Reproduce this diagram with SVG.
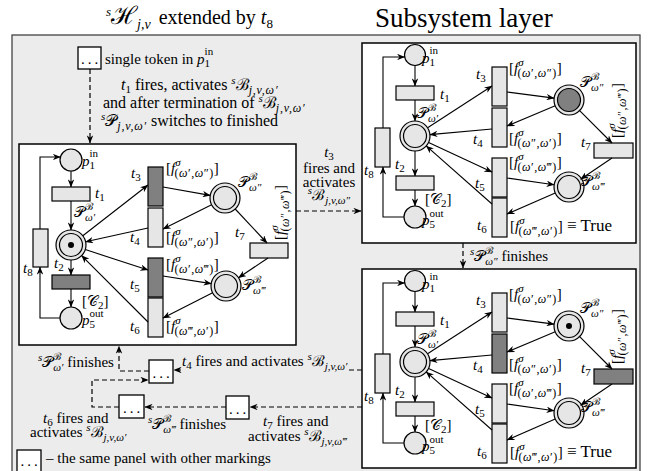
<svg xmlns="http://www.w3.org/2000/svg" width="654" height="471" viewBox="0 0 654 471" font-family="Liberation Serif, serif" font-size="15">
<defs>
<style>
.i{font-style:italic}
.u{font-style:normal}
.s{font-size:11px}
.g{font-size:12px;letter-spacing:0.5px}
.ms{font-size:12px;letter-spacing:0.8px;font-style:italic}
.c{font-family:"DejaVu Serif",serif;font-style:normal}
.outer{fill:#ececec;stroke:#444;stroke-width:1.3}
.panel{fill:#fff;stroke:#000;stroke-width:1.5}
.lt{fill:#e6e6e6;stroke:#000;stroke-width:1.2}
.dk{fill:#808080;stroke:#000;stroke-width:1.2}
.box{fill:#fff;stroke:#000;stroke-width:1.3}
.arc{fill:none;stroke:#000;stroke-width:1.1;marker-end:url(#ah)}
.dsh{fill:none;stroke:#000;stroke-width:1.2;stroke-dasharray:5 3;marker-end:url(#ah)}
.dots{letter-spacing:3px;text-anchor:middle}
</style>
<marker id="ah" viewBox="0 0 10 8" refX="9.5" refY="4" markerWidth="8" markerHeight="6.4" markerUnits="userSpaceOnUse" orient="auto"><path d="M0,0 L10,4 L0,8 L3,4 z" fill="#000"/></marker>
</defs>

<!-- titles -->
<text x="106" y="24"><tspan class="i" font-size="13" dy="-8">s</tspan><tspan class="c" font-size="25" dy="8">ℋ</tspan><tspan class="i" font-size="14" dy="5">j,v</tspan><tspan font-size="20" dy="-5" dx="8">extended by </tspan><tspan class="i" font-size="20">t</tspan><tspan font-size="13" dy="4">8</tspan></text>
<text x="375" y="27" font-size="27">Subsystem layer</text>

<rect class="outer" x="12" y="35" width="628" height="445"/>

<!-- top annotation -->
<g id="start">
<rect class="box" x="78" y="47" width="23" height="22"/>
<text class="dots" x="91" y="64">...</text>
</g>
<text x="105" y="64">single token in <tspan class="i">p</tspan><tspan class="s" dy="3">1</tspan><tspan class="s" dx="-5.5" dy="-12">in</tspan></text>
<text x="121" y="90" font-size="16"><tspan class="i">t</tspan><tspan class="s" dy="3">1</tspan><tspan dy="-3"> fires, activates </tspan><tspan class="s i" dy="-6">s</tspan><tspan class="c" dy="6">ℬ</tspan><tspan class="ms" dy="4">j,v,ω′</tspan></text>
<text x="103" y="108" font-size="16">and after termination of <tspan class="s i" dy="-6">s</tspan><tspan class="c" dy="6">ℬ</tspan><tspan class="ms" dy="4">j,v,ω′</tspan></text>
<text x="101" y="126" font-size="16"><tspan class="s i" dy="-6">s</tspan><tspan class="c" dy="6">𝒫</tspan><tspan class="ms" dy="4">j,v,ω′</tspan><tspan dy="-4"> switches to finished</tspan></text>

<!-- ============ LEFT PANEL ============ -->
<g id="panelL">
<rect class="panel" x="19" y="144" width="277" height="201"/>
<g id="L-p1in"><circle class="lt" cx="71" cy="160" r="11"/><text x="82" y="166" class="i">p<tspan class="s u" dy="3">1</tspan><tspan class="s u" dx="-5.5" dy="-12">in</tspan></text></g>
<g id="L-t1"><rect class="lt" x="52" y="187" width="38" height="14"/><text x="95" y="198" class="i">t<tspan class="s u" dy="3">1</tspan></text></g>
<g id="L-Pw1"><circle class="lt" cx="71" cy="245" r="15"/><circle class="lt" cx="71" cy="245" r="11.5"/><circle cx="71" cy="245" r="3"/><text x="74" y="217"><tspan class="c">𝒫</tspan><tspan class="c" font-size="10" dy="-7">ℬ</tspan><tspan class="s i" dx="-8" dy="11">ω′</tspan></text></g>
<g id="L-t2"><rect class="dk" x="52" y="275" width="38" height="14"/><text x="54" y="268" class="i">t<tspan class="s u" dy="3">2</tspan></text></g>
<g id="L-p5out"><circle class="lt" cx="71" cy="318" r="11"/><text x="82" y="325" class="i">p<tspan class="s u" dy="3">5</tspan><tspan class="s u" dx="-5.5" dy="-11">out</tspan></text><text x="82" y="306">[<tspan class="c">𝒞</tspan><tspan class="s" dy="3">2</tspan><tspan dy="-3">]</tspan></text></g>
<g id="L-t8"><rect class="lt" x="33" y="229" width="15" height="38"/><text x="23" y="273" class="i">t<tspan class="s u" dy="3">8</tspan></text></g>
<g id="L-t3"><rect class="dk" x="148" y="167" width="15" height="39"/><text x="131" y="178" class="i">t<tspan class="s u" dy="3">3</tspan></text><text x="166" y="173">[<tspan class="i">f</tspan><tspan class="s i" dy="-7">σ</tspan><tspan class="g" dx="-6" dy="11">(<tspan class="i">ω</tspan>′,<tspan class="i">ω</tspan>″)</tspan><tspan dy="-4">]</tspan></text></g>
<g id="L-t4"><rect class="lt" x="148" y="208" width="15" height="39"/><text x="130" y="242" class="i">t<tspan class="s u" dy="3">4</tspan></text><text x="166" y="242">[<tspan class="i">f</tspan><tspan class="s i" dy="-7">σ</tspan><tspan class="g" dx="-6" dy="11">(<tspan class="i">ω</tspan>″,<tspan class="i">ω</tspan>′)</tspan><tspan dy="-4">]</tspan></text></g>
<g id="L-t5"><rect class="dk" x="148" y="258" width="15" height="39"/><text x="130" y="289" class="i">t<tspan class="s u" dy="3">5</tspan></text><text x="166" y="269">[<tspan class="i">f</tspan><tspan class="s i" dy="-7">σ</tspan><tspan class="g" dx="-6" dy="11">(<tspan class="i">ω</tspan>′,<tspan class="i">ω</tspan>‴)</tspan><tspan dy="-4">]</tspan></text></g>
<g id="L-t6"><rect class="lt" x="148" y="298" width="15" height="39"/><text x="130" y="331" class="i">t<tspan class="s u" dy="3">6</tspan></text><text x="166" y="331">[<tspan class="i">f</tspan><tspan class="s i" dy="-7">σ</tspan><tspan class="g" dx="-6" dy="11">(<tspan class="i">ω</tspan>‴,<tspan class="i">ω</tspan>′)</tspan><tspan dy="-4">]</tspan></text></g>
<g id="L-Pw2"><circle class="lt" cx="225" cy="198" r="15"/><circle class="lt" cx="225" cy="198" r="11.5"/><text x="238" y="187"><tspan class="c">𝒫</tspan><tspan class="c" font-size="10" dy="-7">ℬ</tspan><tspan class="s i" dx="-8" dy="11">ω″</tspan></text></g>
<g id="L-Pw3"><circle class="lt" cx="226" cy="286" r="15"/><circle class="lt" cx="226" cy="286" r="11.5"/><text x="242" y="290"><tspan class="c">𝒫</tspan><tspan class="c" font-size="10" dy="-7">ℬ</tspan><tspan class="s i" dx="-8" dy="11">ω‴</tspan></text></g>
<g id="L-t7"><rect class="lt" x="250" y="243" width="38" height="15"/><text x="235" y="237" class="i">t<tspan class="s u" dy="3">7</tspan></text><text transform="translate(285,240) rotate(-90)">[<tspan class="i">f</tspan><tspan class="s i" dy="-7">σ</tspan><tspan class="g" dx="-6" dy="11">(<tspan class="i">ω</tspan>″,<tspan class="i">ω</tspan>‴)</tspan><tspan dy="-4">]</tspan></text></g>
</g>

<!-- ============ RIGHT TOP PANEL ============ -->
<g id="panelRT">
<rect class="panel" x="362" y="43" width="274" height="200"/>
<g id="RT-p1in"><circle class="lt" cx="415" cy="55" r="10.5"/><text x="422" y="63" class="i">p<tspan class="s u" dy="3">1</tspan><tspan class="s u" dx="-5.5" dy="-12">in</tspan></text></g>
<g id="RT-t1"><rect class="lt" x="396" y="86" width="38" height="14"/><text x="440" y="99" class="i">t<tspan class="s u" dy="3">1</tspan></text></g>
<g id="RT-Pw1"><circle class="lt" cx="415" cy="136" r="15"/><circle class="lt" cx="415" cy="136" r="11.5"/><text x="417" y="118"><tspan class="c">𝒫</tspan><tspan class="c" font-size="10" dy="-7">ℬ</tspan><tspan class="s i" dx="-8" dy="11">ω′</tspan></text></g>
<g id="RT-t2"><rect class="lt" x="396" y="176" width="38" height="14"/><text x="395" y="169" class="i">t<tspan class="s u" dy="3">2</tspan></text></g>
<g id="RT-p5out"><circle class="lt" cx="415" cy="217" r="11"/><text x="422" y="225" class="i">p<tspan class="s u" dy="3">5</tspan><tspan class="s u" dx="-5.5" dy="-11">out</tspan></text><text x="425" y="204">[<tspan class="c">𝒞</tspan><tspan class="s" dy="3">2</tspan><tspan dy="-3">]</tspan></text></g>
<g id="RT-t8"><rect class="lt" x="375" y="128" width="15" height="39"/><text x="364" y="175" class="i">t<tspan class="s u" dy="3">8</tspan></text></g>
<g id="RT-t3"><rect class="lt" x="492" y="67" width="15" height="39"/><text x="476" y="79" class="i">t<tspan class="s u" dy="3">3</tspan></text><text x="509" y="73">[<tspan class="i">f</tspan><tspan class="s i" dy="-7">σ</tspan><tspan class="g" dx="-6" dy="11">(<tspan class="i">ω</tspan>′,<tspan class="i">ω</tspan>″)</tspan><tspan dy="-4">]</tspan></text></g>
<g id="RT-t4"><rect class="lt" x="492" y="108" width="15" height="39"/><text x="473" y="144" class="i">t<tspan class="s u" dy="3">4</tspan></text><text x="509" y="143">[<tspan class="i">f</tspan><tspan class="s i" dy="-7">σ</tspan><tspan class="g" dx="-6" dy="11">(<tspan class="i">ω</tspan>″,<tspan class="i">ω</tspan>′)</tspan><tspan dy="-4">]</tspan></text></g>
<g id="RT-t5"><rect class="lt" x="492" y="158" width="15" height="39"/><text x="475" y="188" class="i">t<tspan class="s u" dy="3">5</tspan></text><text x="509" y="167">[<tspan class="i">f</tspan><tspan class="s i" dy="-7">σ</tspan><tspan class="g" dx="-6" dy="11">(<tspan class="i">ω</tspan>′,<tspan class="i">ω</tspan>‴)</tspan><tspan dy="-4">]</tspan></text></g>
<g id="RT-t6"><rect class="lt" x="492" y="198" width="15" height="39"/><text x="477" y="230" class="i">t<tspan class="s u" dy="3">6</tspan></text><text x="510" y="231">[<tspan class="i">f</tspan><tspan class="s i" dy="-7">σ</tspan><tspan class="g" dx="-6" dy="11">(<tspan class="i">ω</tspan>‴,<tspan class="i">ω</tspan>′)</tspan><tspan dy="-4">]</tspan><tspan font-size="17"> ≡ True</tspan></text></g>
<g id="RT-Pw2"><circle class="lt" cx="569" cy="100" r="15"/><circle class="dk" cx="569" cy="100" r="11.5"/><text x="580" y="87"><tspan class="c">𝒫</tspan><tspan class="c" font-size="10" dy="-7">ℬ</tspan><tspan class="s i" dx="-8" dy="11">ω″</tspan></text></g>
<g id="RT-Pw3"><circle class="lt" cx="569" cy="187" r="15"/><circle class="lt" cx="569" cy="187" r="11.5"/><text x="581" y="186"><tspan class="c">𝒫</tspan><tspan class="c" font-size="10" dy="-7">ℬ</tspan><tspan class="s i" dx="-8" dy="11">ω‴</tspan></text></g>
<g id="RT-t7"><rect class="lt" x="594" y="143" width="39" height="15"/><text x="581" y="147" class="i">t<tspan class="s u" dy="3">7</tspan></text><text transform="translate(622,138) rotate(-90)">[<tspan class="i">f</tspan><tspan class="s i" dy="-7">σ</tspan><tspan class="g" dx="-6" dy="11">(<tspan class="i">ω</tspan>″,<tspan class="i">ω</tspan>‴)</tspan><tspan dy="-4">]</tspan></text></g>
</g>

<!-- ============ RIGHT BOTTOM PANEL ============ -->
<g id="panelRB">
<rect class="panel" x="362" y="269" width="274" height="199"/>
<g id="RB-p1in"><circle class="lt" cx="415" cy="281" r="10.5"/><text x="422" y="289" class="i">p<tspan class="s u" dy="3">1</tspan><tspan class="s u" dx="-5.5" dy="-12">in</tspan></text></g>
<g id="RB-t1"><rect class="lt" x="396" y="312" width="38" height="14"/><text x="440" y="325" class="i">t<tspan class="s u" dy="3">1</tspan></text></g>
<g id="RB-Pw1"><circle class="lt" cx="415" cy="362" r="15"/><circle class="lt" cx="415" cy="362" r="11.5"/><text x="417" y="344"><tspan class="c">𝒫</tspan><tspan class="c" font-size="10" dy="-7">ℬ</tspan><tspan class="s i" dx="-8" dy="11">ω′</tspan></text></g>
<g id="RB-t2"><rect class="lt" x="396" y="402" width="38" height="14"/><text x="395" y="395" class="i">t<tspan class="s u" dy="3">2</tspan></text></g>
<g id="RB-p5out"><circle class="lt" cx="415" cy="443" r="11"/><text x="422" y="451" class="i">p<tspan class="s u" dy="3">5</tspan><tspan class="s u" dx="-5.5" dy="-11">out</tspan></text><text x="425" y="430">[<tspan class="c">𝒞</tspan><tspan class="s" dy="3">2</tspan><tspan dy="-3">]</tspan></text></g>
<g id="RB-t8"><rect class="lt" x="375" y="354" width="15" height="39"/><text x="364" y="401" class="i">t<tspan class="s u" dy="3">8</tspan></text></g>
<g id="RB-t3"><rect class="lt" x="492" y="293" width="15" height="39"/><text x="476" y="305" class="i">t<tspan class="s u" dy="3">3</tspan></text><text x="509" y="299">[<tspan class="i">f</tspan><tspan class="s i" dy="-7">σ</tspan><tspan class="g" dx="-6" dy="11">(<tspan class="i">ω</tspan>′,<tspan class="i">ω</tspan>″)</tspan><tspan dy="-4">]</tspan></text></g>
<g id="RB-t4"><rect class="dk" x="492" y="334" width="15" height="39"/><text x="473" y="370" class="i">t<tspan class="s u" dy="3">4</tspan></text><text x="509" y="369">[<tspan class="i">f</tspan><tspan class="s i" dy="-7">σ</tspan><tspan class="g" dx="-6" dy="11">(<tspan class="i">ω</tspan>″,<tspan class="i">ω</tspan>′)</tspan><tspan dy="-4">]</tspan></text></g>
<g id="RB-t5"><rect class="lt" x="492" y="384" width="15" height="39"/><text x="475" y="414" class="i">t<tspan class="s u" dy="3">5</tspan></text><text x="509" y="393">[<tspan class="i">f</tspan><tspan class="s i" dy="-7">σ</tspan><tspan class="g" dx="-6" dy="11">(<tspan class="i">ω</tspan>′,<tspan class="i">ω</tspan>‴)</tspan><tspan dy="-4">]</tspan></text></g>
<g id="RB-t6"><rect class="lt" x="492" y="424" width="15" height="39"/><text x="477" y="456" class="i">t<tspan class="s u" dy="3">6</tspan></text><text x="510" y="457">[<tspan class="i">f</tspan><tspan class="s i" dy="-7">σ</tspan><tspan class="g" dx="-6" dy="11">(<tspan class="i">ω</tspan>‴,<tspan class="i">ω</tspan>′)</tspan><tspan dy="-4">]</tspan><tspan font-size="17"> ≡ True</tspan></text></g>
<g id="RB-Pw2"><circle class="lt" cx="569" cy="326" r="15"/><circle class="lt" cx="569" cy="326" r="11.5"/><circle cx="569" cy="326" r="3"/><text x="580" y="313"><tspan class="c">𝒫</tspan><tspan class="c" font-size="10" dy="-7">ℬ</tspan><tspan class="s i" dx="-8" dy="11">ω″</tspan></text></g>
<g id="RB-Pw3"><circle class="lt" cx="569" cy="413" r="15"/><circle class="lt" cx="569" cy="413" r="11.5"/><text x="581" y="412"><tspan class="c">𝒫</tspan><tspan class="c" font-size="10" dy="-7">ℬ</tspan><tspan class="s i" dx="-8" dy="11">ω‴</tspan></text></g>
<g id="RB-t7"><rect class="dk" x="594" y="369" width="39" height="15"/><text x="581" y="373" class="i">t<tspan class="s u" dy="3">7</tspan></text><text transform="translate(622,364) rotate(-90)">[<tspan class="i">f</tspan><tspan class="s i" dy="-7">σ</tspan><tspan class="g" dx="-6" dy="11">(<tspan class="i">ω</tspan>″,<tspan class="i">ω</tspan>‴)</tspan><tspan dy="-4">]</tspan></text></g>
</g>

<!-- bottom boxes -->
<g id="boxA"><rect class="box" x="149" y="360" width="24" height="23"/><text class="dots" x="162.5" y="378">...</text></g>
<g id="boxB"><rect class="box" x="119" y="395" width="25" height="23"/><text class="dots" x="133" y="413">...</text></g>
<g id="boxC"><rect class="box" x="226" y="396" width="23" height="23"/><text class="dots" x="239" y="414">...</text></g>
<g id="legend"><rect class="box" x="17" y="450" width="24" height="22"/><text class="dots" x="30.5" y="466">...</text><text x="46" y="463">– the same panel with other markings</text></g>

<!-- ============ CONNECTORS ============ -->
<g id="connectors">
<path class="arc" d="M71,171 V187"/>
<path class="arc" d="M71,201 V230"/>
<path class="arc" d="M71,260 V275"/>
<path class="arc" d="M71,289 V307"/>
<path class="arc" d="M60,318 H40 V267"/>
<path class="arc" d="M40,229 V157 H60.4"/>
<path class="arc" d="M82.8,235.8 L148,185"/>
<path class="arc" d="M163,187 L210.2,195.4"/>
<path class="arc" d="M211.6,204.7 L163,229"/>
<path class="arc" d="M148,228 L85.6,241.8"/>
<path class="arc" d="M85.3,249.6 L148,270"/>
<path class="arc" d="M163,276 L211.2,283.6"/>
<path class="arc" d="M212.6,292.8 L163,318"/>
<path class="arc" d="M148,322 L81.6,255.6"/>
<path class="arc" d="M235.2,209 L267,243"/>
<path class="arc" d="M268,258 L238.5,277.7"/>
<path class="arc" d="M415,65.5 V86"/>
<path class="arc" d="M415,100 V121"/>
<path class="arc" d="M415,151 V176"/>
<path class="arc" d="M415,190 V206"/>
<path class="arc" d="M404,217 H383 V167"/>
<path class="arc" d="M383,128 V57 H404.7"/>
<path class="arc" d="M427.6,127.8 L492,86"/>
<path class="arc" d="M507,92 L554.1,98.1"/>
<path class="arc" d="M555.2,105.8 L507,126"/>
<path class="arc" d="M492,129 L429.9,134.6"/>
<path class="arc" d="M428.6,142.4 L492,172"/>
<path class="arc" d="M507,178 L554.1,184.8"/>
<path class="arc" d="M555.2,193 L507,214"/>
<path class="arc" d="M492,204 L426.2,145.9"/>
<path class="arc" d="M578.9,109.9 L612,143"/>
<path class="arc" d="M612,158 L580.6,179.2"/>
<path class="arc" d="M415,291.5 V312"/>
<path class="arc" d="M415,326 V347"/>
<path class="arc" d="M415,377 V402"/>
<path class="arc" d="M415,416 V432"/>
<path class="arc" d="M404,443 H383 V393"/>
<path class="arc" d="M383,354 V283 H404.7"/>
<path class="arc" d="M427.6,353.8 L492,312"/>
<path class="arc" d="M507,318 L554.1,324.1"/>
<path class="arc" d="M555.2,331.8 L507,352"/>
<path class="arc" d="M492,355 L429.9,360.6"/>
<path class="arc" d="M428.6,368.4 L492,398"/>
<path class="arc" d="M507,404 L554.1,410.8"/>
<path class="arc" d="M555.2,419 L507,440"/>
<path class="arc" d="M492,430 L426.2,371.9"/>
<path class="arc" d="M578.9,335.9 L612,369"/>
<path class="arc" d="M612,384 L580.6,405.2"/>
<path class="dsh" d="M90,69 V143"/>
<path class="dsh" d="M296,211 H361"/>
<path class="dsh" d="M463,243 V268"/>
<path class="dsh" d="M362,370 H347 M181,370 H174"/>
<path class="dsh" d="M149,371 H119 V346"/>
<path class="dsh" d="M119,407 H92 V380 H148"/>
<path class="dsh" d="M226,407 H145"/>
<path class="dsh" d="M362,407 H250"/>
</g>

<!-- transition annotations -->
<text text-anchor="middle" x="329" y="157" class="i">t<tspan class="s u" dy="3">3</tspan></text>
<text text-anchor="middle" x="329" y="173">fires and</text>
<text text-anchor="middle" x="329" y="187">activates</text>
<text text-anchor="middle" x="329" y="200"><tspan class="s i" dy="-6">s</tspan><tspan class="c" dy="6">ℬ</tspan><tspan class="s i" dy="4">j,v,ω″</tspan></text>
<text x="470" y="261"><tspan class="s i" dy="-6">s</tspan><tspan class="c" dy="6">𝒫</tspan><tspan class="c" font-size="10" dy="-7">ℬ</tspan><tspan class="s i" dx="-8" dy="11">ω″</tspan><tspan dy="-4"> finishes</tspan></text>
<text x="182" y="366"><tspan class="i">t</tspan><tspan class="s" dy="3">4</tspan><tspan dy="-3"> fires and activates </tspan><tspan class="s i" dy="-6">s</tspan><tspan class="c" dy="6">ℬ</tspan><tspan class="s i" dy="4">j,v,ω′</tspan></text>
<text x="38" y="367"><tspan class="s i" dy="-6">s</tspan><tspan class="c" dy="6">𝒫</tspan><tspan class="c" font-size="10" dy="-7">ℬ</tspan><tspan class="s i" dx="-8" dy="11">ω′</tspan><tspan dy="-4"> finishes</tspan></text>
<text x="43" y="423"><tspan class="i">t</tspan><tspan class="s" dy="3">6</tspan><tspan dy="-3"> fires and</tspan></text>
<text x="30" y="437">activates <tspan class="s i" dy="-6">s</tspan><tspan class="c" dy="6">ℬ</tspan><tspan class="s i" dy="4">j,v,ω′</tspan></text>
<text x="148" y="429"><tspan class="s i" dy="-6">s</tspan><tspan class="c" dy="6">𝒫</tspan><tspan class="c" font-size="10" dy="-7">ℬ</tspan><tspan class="s i" dx="-8" dy="11">ω‴</tspan><tspan dy="-4"> finishes</tspan></text>
<text x="263" y="426"><tspan class="i">t</tspan><tspan class="s" dy="3">7</tspan><tspan dy="-3"> fires and</tspan></text>
<text x="248" y="441">activates <tspan class="s i" dy="-6">s</tspan><tspan class="c" dy="6">ℬ</tspan><tspan class="s i" dy="4">j,v,ω‴</tspan></text>
</svg>
